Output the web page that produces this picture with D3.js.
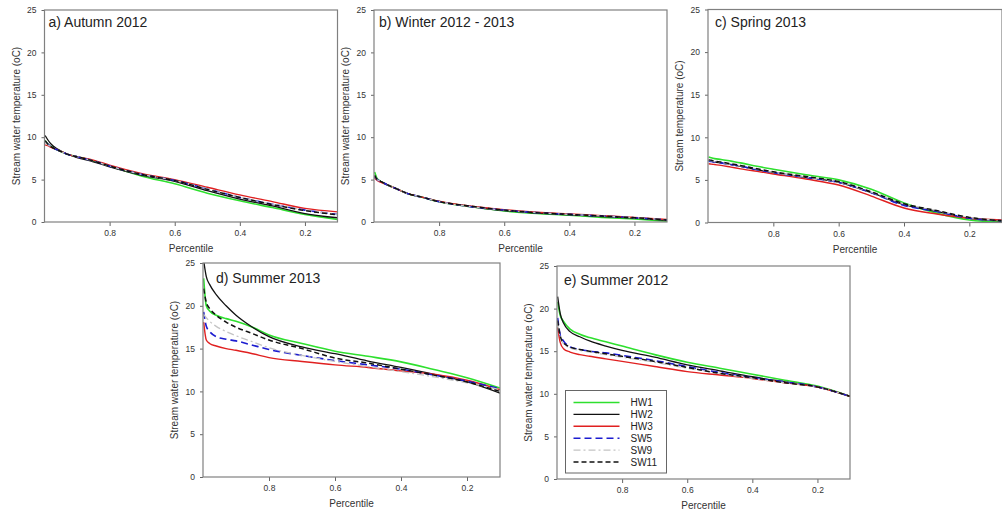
<!DOCTYPE html>
<html>
<head>
<meta charset="utf-8">
<script src="https://cdn.jsdelivr.net/npm/d3@7"></script>
<style>
  body { margin: 0; background: #fff; }
  svg { font-family: Arial, 'Liberation Sans', sans-serif; }
</style>
</head>
<body>
<svg id="chart"></svg>
<script>
let percentiles = [0.998, 0.99, 0.98, 0.96, 0.93, 0.9, 0.85, 0.8, 0.7, 0.6, 0.5, 0.4, 0.3, 0.2, 0.1]

let sites = ['HW1', 'HW2', 'HW3', 'SW5', 'SW9', 'SW11']

// stream temperature (oC) per site, same order as sites
let autumn2012 = [
  [9.6, 9.2, 8.9, 8.5, 8.0, 7.7, 7.2, 6.6, 5.4, 4.5, 3.4, 2.5, 1.7, 0.9, 0.3],
  [10.2, 9.7, 9.2, 8.6, 8.0, 7.6, 7.1, 6.5, 5.5, 4.8, 3.7, 2.7, 1.9, 1.0, 0.5],
  [9.1, 9.0, 8.8, 8.5, 8.0, 7.7, 7.3, 6.7, 5.7, 5.0, 4.1, 3.2, 2.4, 1.6, 1.2],
  [9.5, 9.2, 8.9, 8.5, 8.0, 7.7, 7.2, 6.6, 5.6, 4.9, 3.9, 2.9, 2.1, 1.4, 0.9],
  [9.4, 9.1, 8.9, 8.5, 8.0, 7.7, 7.2, 6.6, 5.6, 4.9, 3.9, 2.9, 2.1, 1.4, 0.9],
  [9.6, 9.2, 8.9, 8.5, 8.0, 7.7, 7.2, 6.6, 5.6, 4.9, 3.85, 2.9, 2.05, 1.35, 0.85],
]
let winter2012 = [
  [5.9, 5.1, 4.8, 4.4, 3.9, 3.4, 2.9, 2.4, 1.8, 1.3, 1.0, 0.8, 0.55, 0.35, 0.1],
  [5.3, 5.0, 4.8, 4.4, 3.9, 3.4, 2.9, 2.4, 1.8, 1.35, 1.05, 0.85, 0.65, 0.45, 0.2],
  [5.2, 4.9, 4.7, 4.4, 3.9, 3.4, 2.9, 2.45, 1.85, 1.45, 1.15, 0.95, 0.75, 0.55, 0.3],
  [5.4, 5.0, 4.8, 4.4, 3.9, 3.4, 2.9, 2.4, 1.8, 1.4, 1.1, 0.9, 0.7, 0.5, 0.25],
  [5.4, 5.0, 4.8, 4.4, 3.9, 3.4, 2.9, 2.4, 1.8, 1.4, 1.1, 0.9, 0.7, 0.5, 0.25],
  [5.5, 5.0, 4.8, 4.4, 3.9, 3.4, 2.9, 2.4, 1.85, 1.4, 1.1, 0.9, 0.7, 0.5, 0.25],
]
let spring2013 = [
  [7.7, 7.6, 7.5, 7.4, 7.2, 7.0, 6.6, 6.25, 5.6, 5.0, 3.9, 2.3, 1.1, 0.3, 0.05],
  [7.3, 7.2, 7.1, 7.0, 6.8, 6.6, 6.2, 5.85, 5.3, 4.7, 3.5, 2.1, 1.3, 0.5, 0.2],
  [6.9, 6.85, 6.8, 6.7, 6.5, 6.3, 6.0, 5.7, 5.1, 4.4, 3.1, 1.7, 1.0, 0.5, 0.3],
  [7.2, 7.15, 7.1, 7.0, 6.8, 6.6, 6.2, 5.85, 5.3, 4.7, 3.5, 2.0, 1.3, 0.5, 0.2],
  [7.3, 7.25, 7.15, 7.05, 6.85, 6.65, 6.3, 5.9, 5.35, 4.75, 3.55, 2.2, 1.4, 0.6, 0.2],
  [7.35, 7.3, 7.2, 7.1, 6.9, 6.7, 6.3, 5.95, 5.4, 4.8, 3.6, 2.2, 1.4, 0.6, 0.2],
]
let summer2013 = [
  [23.2, 20.0, 19.4, 18.9, 18.5, 18.2, 17.5, 16.6, 15.6, 14.7, 14.1, 13.45, 12.55, 11.6, 10.4],
  [25.3, 23.4, 22.5, 21.3, 20.0, 18.9, 17.5, 16.4, 15.2, 14.4, 13.55, 12.8, 12.0, 11.1, 9.8],
  [18.1, 16.0, 15.6, 15.3, 15.0, 14.8, 14.4, 13.95, 13.5, 13.1, 12.8, 12.4, 12.0, 11.3, 10.2],
  [19.3, 17.6, 17.0, 16.4, 16.1, 15.9, 15.4, 14.9, 14.2, 13.6, 13.1, 12.6, 11.9, 11.2, 10.3],
  [19.0, 18.6, 18.2, 17.6, 17.0, 16.5, 15.8, 15.1, 14.2, 13.5, 12.9, 12.3, 11.7, 11.0, 10.2],
  [22.0, 20.4, 19.7, 18.9, 18.1, 17.5, 16.75, 16.0, 15.0, 13.9, 13.3, 12.6, 11.9, 11.1, 10.0],
]
let summer2012 = [
  [20.8, 19.2, 18.5, 17.6, 17.0, 16.6, 16.1, 15.6, 14.6, 13.7, 13.0, 12.3, 11.6, 10.9, 9.7],
  [21.4, 19.4, 18.3, 17.3, 16.7, 16.2, 15.6, 15.1, 14.3, 13.4, 12.7, 12.0, 11.4, 10.8, 9.7],
  [17.8, 16.0, 15.3, 14.9, 14.6, 14.4, 14.1, 13.8, 13.2, 12.6, 12.2, 11.8, 11.3, 10.8, 9.7],
  [18.9, 16.9, 16.2, 15.5, 15.2, 15.0, 14.8, 14.5, 13.9, 13.2, 12.5, 11.9, 11.4, 10.8, 9.7],
  [18.3, 16.6, 15.9, 15.4, 15.1, 14.9, 14.6, 14.3, 13.7, 13.0, 12.4, 11.8, 11.3, 10.8, 9.7],
  [18.6, 16.8, 16.0, 15.5, 15.2, 15.0, 14.7, 14.4, 13.8, 13.1, 12.4, 11.9, 11.3, 10.8, 9.7],
]

let panelTitles = ['a) Autumn 2012', 'b) Winter 2012 - 2013', 'c) Spring 2013', 'd) Summer 2013', 'e) Summer 2012']
let yTitles = [
  'Stream water temperature (oC)',
  'Stream water temperature (oC)',
  'Stream temperature (oC)',
  'Stream water temperature (oC)',
  'Stream water temperature (oC)',
]
let xTicks = [0.8, 0.6, 0.4, 0.2]
let yTicks = [0, 5, 10, 15, 20, 25]

// line styles for each site
let styles = {
  HW1: { color: '#2ee02e', width: 1.6, dash: null },
  HW2: { color: '#111', width: 1.3, dash: null },
  HW3: { color: '#e02020', width: 1.4, dash: null },
  SW5: { color: '#1c1cd0', width: 1.6, dash: '7,4' },
  SW9: { color: '#c4c4c4', width: 1.3, dash: '7,3,2,3' },
  SW11: { color: '#111', width: 1.5, dash: '5,3' },
}

let outerWidth = 1002
let outerHeight = 518

// panel frames in pixels (plot area), title offset inside frame
let panels = [
  { data: autumn2012, left: 44.5, top: 10, w: 293, h: 212, tx: 4, ty: 17 },
  { data: winter2012, left: 374, top: 10, w: 293, h: 212, tx: 5, ty: 17 },
  { data: spring2013, left: 708, top: 9.5, w: 294, h: 213, tx: 7, ty: 17 },
  { data: summer2013, left: 203, top: 263, w: 297, h: 214, tx: 13, ty: 20 },
  { data: summer2012, left: 557, top: 266, w: 293, h: 213, tx: 7, ty: 19 },
]

let svg = d3.select('svg#chart').attr('width', outerWidth).attr('height', outerHeight)

panels.forEach((p, i) => {
  let g = svg.append('g').attr('transform', `translate(${p.left},${p.top})`)

  let xScale = d3.scaleLinear().domain([1, 0.1]).range([0, p.w])
  let yScale = d3.scaleLinear().domain([0, 25]).range([p.h, 0])

  g.append('clipPath')
    .attr('id', 'clip' + i)
    .append('rect')
    .attr('width', p.w)
    .attr('height', p.h)

  // axes: small outward ticks, frame drawn separately
  let xAxis = d3.axisBottom(xScale).tickValues(xTicks).tickSize(4).tickPadding(4).tickFormat(d3.format('.1f'))
  let yAxis = d3.axisLeft(yScale).tickValues(yTicks).tickSize(3).tickPadding(5)

  let gx = g.append('g').attr('transform', `translate(0,${p.h})`).call(xAxis)
  let gy = g.append('g').call(yAxis)
  for (let ax of [gx, gy]) {
    ax.select('.domain').remove()
    ax.selectAll('line').attr('stroke', '#666')
    ax.selectAll('text').attr('fill', '#333').style('font-size', '8.5px').style('font-family', 'Arial, Liberation Sans, sans-serif')
  }

  // curves
  let line = d3
    .line()
    .x((d, j) => xScale(percentiles[j]))
    .y(d => yScale(d))
    .curve(d3.curveMonotoneX)

  g.append('g')
    .attr('clip-path', `url(#clip${i})`)
    .selectAll('path')
    .data(p.data)
    .join('path')
    .attr('d', d => line(d))
    .attr('fill', 'none')
    .attr('stroke', (d, k) => styles[sites[k]].color)
    .attr('stroke-width', (d, k) => styles[sites[k]].width)
    .attr('stroke-dasharray', (d, k) => styles[sites[k]].dash)

  // frame
  g.append('rect')
    .attr('width', p.w)
    .attr('height', p.h)
    .attr('fill', 'none')
    .attr('stroke', '#808080')
    .attr('stroke-width', 1.2)

  // panel title
  g.append('text')
    .attr('x', p.tx)
    .attr('y', p.ty)
    .style('font-size', '14px')
    .attr('fill', '#222')
    .text(panelTitles[i])

  // axis titles
  g.append('text')
    .attr('x', p.w / 2)
    .attr('y', p.h + 30)
    .attr('text-anchor', 'middle')
    .style('font-size', '10px')
    .attr('fill', '#333')
    .text('Percentile')

  g.append('text')
    .attr('transform', `translate(-25,${p.h / 2}) rotate(-90)`)
    .attr('text-anchor', 'middle')
    .style('font-size', '10px')
    .attr('fill', '#333')
    .text(yTitles[i])

  // legend only in the last panel
  if (i == 4) {
    let leg = g.append('g').attr('transform', 'translate(8.5,124.5)')
    leg.append('rect')
      .attr('width', 101)
      .attr('height', 82.5)
      .attr('fill', '#fff')
      .attr('stroke', '#666')
    sites.forEach((s, k) => {
      let yy = 12 + k * 11.9
      leg.append('line')
        .attr('x1', 8)
        .attr('x2', 54)
        .attr('y1', yy)
        .attr('y2', yy)
        .attr('stroke', styles[s].color)
        .attr('stroke-width', styles[s].width)
        .attr('stroke-dasharray', styles[s].dash)
      leg.append('text')
        .attr('x', 65)
        .attr('y', yy + 3.5)
        .style('font-size', '10px')
        .attr('fill', '#222')
        .text(s)
    })
  }
})
</script>
</body>
</html>
